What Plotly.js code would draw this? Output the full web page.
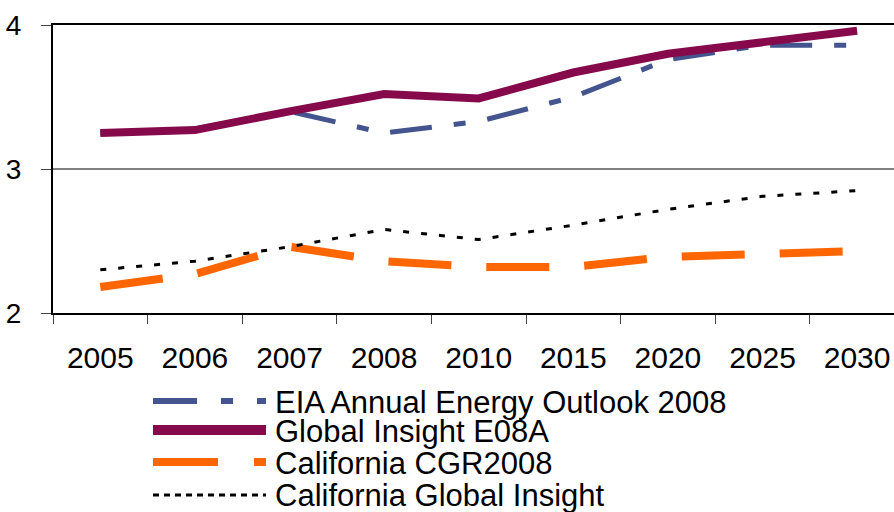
<!DOCTYPE html>
<html>
<head>
<meta charset="utf-8">
<script src="https://cdn.plot.ly/plotly-3.0.1.min.js"></script>
<style>html,body{margin:0;padding:0;background:#fff;}#chart{width:894px;height:512px;}</style>
</head>
<body>
<div id="chart"></div>
<script>
// ---- data ----
const categories = ['2005','2006','2007','2008','2010','2015','2020','2025','2030'];
const seriesNames = ['EIA Annual Energy Outlook 2008','Global Insight E08A','California CGR2008','California Global Insight'];
const eiaValues  = [3.25, 3.28, 3.40, 3.25, 3.33, 3.50, 3.76, 3.86, 3.86];
const giValues   = [3.25, 3.27, 3.40, 3.52, 3.49, 3.67, 3.80, 3.88, 3.96];
const cgrValues  = [2.18, 2.27, 2.46, 2.36, 2.32, 2.32, 2.39, 2.41, 2.43];
const cagiValues = [2.30, 2.36, 2.46, 2.58, 2.51, 2.61, 2.72, 2.81, 2.85];
const yTicks = [2, 3, 4];

// ---- styles ----
const FONT = 'Liberation Sans, Arial, sans-serif';
const styles = [
  {color:'#44548F', width:5, dash:'42px,22px,12px,22px', lw:6, ldash:'44px,24px,12px,24px'},
  {color:'#85094B', width:8, dash:'solid', lw:10, ldash:'solid'},
  {color:'#FF6600', width:8, dash:'63px,35px', lw:8, ldash:'65px,36px'},
  {color:'#000000', width:3, dash:'6px,12px', lw:3, ldash:'6px,5px'}
];
const values = [eiaValues, giValues, cgrValues, cagiValues];

const traces = values.map((v,i)=>({
  type:'scatter', mode:'lines', x:categories, y:v, name:seriesNames[i],
  line:{color:styles[i].color, width:styles[i].width, dash:styles[i].dash},
  showlegend:false, hoverinfo:'skip'
}));

// plot area geometry (pixels)
const L=53, T=25, PW=841, PH=288;
const pxx = x => (x-L)/PW;
const pyy = y => (T+PH-y)/PH;

const legendRows = [401, 430, 462, 495];
const shapes = [], annotations = [];
seriesNames.forEach((n,i)=>{
  shapes.push({type:'line', xref:'paper', yref:'paper', x0:pxx(153), x1:pxx(266),
    y0:pyy(legendRows[i]), y1:pyy(legendRows[i]),
    line:{color:styles[i].color, width:styles[i].lw, dash:styles[i].ldash}});
  annotations.push({xref:'paper', yref:'paper', x:pxx(274), y:pyy(legendRows[i]+1),
    xanchor:'left', yanchor:'middle', showarrow:false, text:n, borderpad:0,
    font:{family:FONT, size:31, color:'#000'}});
});

const layout = {
  width:894, height:512,
  margin:{l:L, r:0, t:T, b:512-T-PH, pad:0},
  paper_bgcolor:'#fff', plot_bgcolor:'#fff',
  font:{family:FONT, color:'#000'},
  showlegend:false,
  xaxis:{type:'category', range:[-0.5, 8.39], showline:true, linecolor:'#000', linewidth:2,
    mirror:true, ticks:'outside', tickson:'boundaries', ticklen:9, tickcolor:'#444', tickwidth:1,
    showgrid:false, zeroline:false, tickfont:{family:FONT, size:30, color:'#000'},
    ticklabelstandoff:17, fixedrange:true},
  yaxis:{range:[2,4], tickvals:yTicks, ticktext:yTicks.map(String), showline:true, linecolor:'#000', linewidth:2,
    ticks:'outside', ticklen:10, tickcolor:'#444', tickwidth:1,
    showgrid:true, gridcolor:'#808080', gridwidth:1.5, zeroline:false,
    tickfont:{family:FONT, size:28, color:'#000'}, ticklabelstandoff:14, fixedrange:true},
  shapes:shapes, annotations:annotations
};
Plotly.newPlot('chart', traces, layout, {displayModeBar:false, staticPlot:true});
</script>
</body>
</html>
